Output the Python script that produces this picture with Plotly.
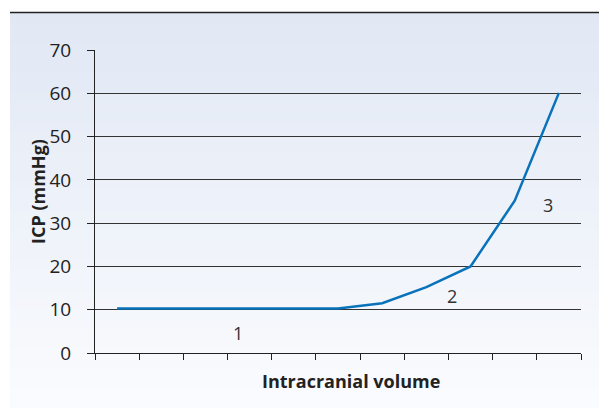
import plotly.graph_objects as go

volume = list(range(1, 12))
icp = [10.3, 10.3, 10.3, 10.3, 10.3, 10.3, 11.5, 15.2, 20, 35.2, 60.1]
y_ticks = [0, 10, 20, 30, 40, 50, 60, 70]
phase_labels = ["1", "2", "3"]
phase_x = [3.73, 8.58, 10.75]
phase_y = [4.6, 13.2, 34.2]
x_title = "Intracranial volume"
y_title = "ICP (mmHg)"

W, H = 599, 408
L, R, T, B = 95, 18, 50, 55
pw, ph = W - L - R, H - T - B


def px(x):
    return (x - L) / pw


def py(y):
    return (H - B - y) / ph


fig = go.Figure()
fig.add_trace(go.Scatter(x=volume, y=icp, mode="lines",
                         line=dict(color="#0A72BA", width=2.5), hoverinfo="skip"))

# gradient background
shapes = []
n = 40
y0p, y1p = 13, 408
top = (225, 232, 244)
bot = (250, 251, 254)
for i in range(n):
    t = i / (n - 1)
    c = tuple(round(top[k] + (bot[k] - top[k]) * t) for k in range(3))
    ya = y0p + (y1p - y0p) * i / n
    yb = y0p + (y1p - y0p) * (i + 1) / n + 1
    shapes.append(dict(type="rect", xref="paper", yref="paper", layer="below",
                       x0=px(10), x1=px(600), y0=py(yb), y1=py(ya),
                       fillcolor="rgb(%d,%d,%d)" % c, line=dict(width=0)))
shapes.append(dict(type="line", xref="paper", yref="paper",
                   x0=px(10), x1=px(600), y0=py(12.5), y1=py(12.5),
                   line=dict(color="#222", width=1.5)))

for t, x, y in zip(phase_labels, phase_x, phase_y):
    fig.add_annotation(x=x, y=y, text=t, showarrow=False,
                       font=dict(size=18, color="#333", family="Open Sans"))

fig.add_annotation(xref="paper", yref="paper", x=px(351), y=py(381),
                   xanchor="center", yanchor="middle",
                   text="<b>%s</b>" % x_title, showarrow=False,
                   font=dict(size=18, color="#222"))
fig.add_annotation(xref="paper", yref="paper", x=px(38), y=py(192),
                   xanchor="center", yanchor="middle",
                   text="<b>%s</b>" % y_title, showarrow=False, textangle=-90,
                   font=dict(size=18, color="#222"))

fig.update_layout(
    width=W, height=H,
    margin=dict(l=L, r=R, t=T, b=B),
    paper_bgcolor="white", plot_bgcolor="rgba(0,0,0,0)",
    showlegend=False, shapes=shapes,
    font=dict(family="Open Sans", color="#222"),
)
fig.update_xaxes(range=[0.5, 11.5], tickvals=[v + 0.5 for v in [0] + volume],
                 ticktext=[""] * 12, ticks="outside", ticklen=6, tickcolor="#222",
                 showgrid=False, zeroline=False, showline=True, linecolor="#222",
                 linewidth=1)
fig.update_yaxes(range=[0, 70], tickvals=y_ticks, ticks="outside", ticklen=7,
                 tickcolor="#222", showline=True, linecolor="#222", linewidth=1,
                 showgrid=True, gridcolor="#333", gridwidth=1, zeroline=False,
                 tickfont=dict(size=19, color="#222"), ticklabelstandoff=12)

fig.write_html("out.html", config={"displayModeBar": False},
               post_script="document.body.style.margin='0';")
